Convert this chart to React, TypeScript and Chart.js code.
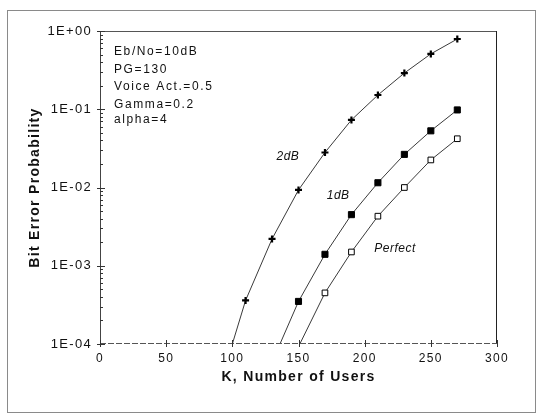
import React, { useEffect, useRef } from 'react';
import { Chart, registerables } from 'chart.js';

Chart.register(...registerables);

// ---- data ----
const k2dB = [100, 110, 130, 150, 170, 190, 210, 230, 250, 270];
const ber2dB = [1e-4, 3.6e-4, 2.2e-3, 9.3e-3, 2.8e-2, 7.3e-2, 0.152, 0.29, 0.51, 0.79];

const k1dB = [136, 150, 170, 190, 210, 230, 250, 270];
const ber1dB = [1e-4, 3.5e-4, 1.4e-3, 4.5e-3, 1.15e-2, 2.65e-2, 5.3e-2, 9.8e-2];

const kPerfect = [151, 170, 190, 210, 230, 250, 270];
const berPerfect = [1e-4, 4.5e-4, 1.5e-3, 4.3e-3, 1.0e-2, 2.25e-2, 4.2e-2];

const xTickValues = [0, 50, 100, 150, 200, 250, 300];
const yTickValues = [1e-4, 1e-3, 1e-2, 1e-1, 1];
const yTickLabels = ['1E-04', '1E-03', '1E-02', '1E-01', '1E+00'];

const paramLines = ['Eb/No=10dB', 'PG=130', 'Voice Act.=0.5', 'Gamma=0.2', 'alpha=4'];

const curveLabels = [
  { text: '2dB', k: 142, ber: 0.025 },
  { text: '1dB', k: 180, ber: 7.8e-3 },
  { text: 'Perfect', k: 223, ber: 1.64e-3 },
];

const xTitle = 'K, Number of Users';
const yTitle = 'Bit Error Probability';

const FONT = '"Liberation Sans", Arial, Helvetica, sans-serif';

function toPoints(ks: number[], vs: number[]) {
  return ks.map((k, i) => ({ x: k, y: vs[i] }));
}

const decorPlugin = {
  id: 'decor',
  beforeDraw(chart: any) {
    const ctx = chart.ctx as CanvasRenderingContext2D;
    (ctx as any).letterSpacing = '1.3px';
    ctx.save();
    ctx.strokeStyle = '#8a8a8a';
    ctx.lineWidth = 1;
    ctx.strokeRect(7.5, 10.5, 528, 402);
    ctx.restore();
  },
  afterDatasetsDraw(chart: any) {
    const ctx = chart.ctx as CanvasRenderingContext2D;
    const { left, right, top, bottom } = chart.chartArea;
    const xs = chart.scales.x;
    const ys = chart.scales.y;
    ctx.save();
    ctx.lineWidth = 1;
    ctx.strokeStyle = '#555';
    ctx.beginPath();
    ctx.moveTo(left, top + 0.5);
    ctx.lineTo(right, top + 0.5);
    ctx.stroke();
    ctx.strokeStyle = '#222';
    ctx.beginPath();
    ctx.moveTo(right - 0.5, top);
    ctx.lineTo(right - 0.5, bottom);
    ctx.stroke();
    ctx.strokeStyle = '#444';
    ctx.beginPath();
    ctx.moveTo(left + 0.5, top);
    ctx.lineTo(left + 0.5, bottom);
    ctx.stroke();
    ctx.strokeStyle = '#555';
    ctx.setLineDash([6, 2]);
    ctx.beginPath();
    ctx.moveTo(left, bottom - 0.5);
    ctx.lineTo(right, bottom - 0.5);
    ctx.stroke();
    ctx.setLineDash([]);

    ctx.strokeStyle = '#333';
    for (let d = -4; d <= 0; d++) {
      const py = Math.round(ys.getPixelForValue(Math.pow(10, d))) + 0.5;
      ctx.beginPath();
      ctx.moveTo(left - 3, py);
      ctx.lineTo(left + 5, py);
      ctx.stroke();
      if (d < 0) {
        for (let m = 2; m <= 9; m++) {
          const my = Math.round(ys.getPixelForValue(m * Math.pow(10, d))) + 0.5;
          ctx.beginPath();
          ctx.moveTo(left, my);
          ctx.lineTo(left + 3, my);
          ctx.stroke();
        }
      }
    }
    xTickValues.forEach((v) => {
      const px = Math.round(xs.getPixelForValue(v)) + 0.5;
      ctx.beginPath();
      ctx.moveTo(px, bottom - 4);
      ctx.lineTo(px, bottom + 3);
      ctx.stroke();
    });

    (ctx as any).letterSpacing = '1.6px';
    ctx.fillStyle = '#111';
    ctx.font = `12px ${FONT}`;
    ctx.textAlign = 'left';
    ctx.textBaseline = 'middle';
    const lineYs = [52, 69.5, 87, 105, 120];
    paramLines.forEach((t, i) => ctx.fillText(t, 114, lineYs[i]));

    (ctx as any).letterSpacing = '0.5px';
    ctx.font = `italic 12px ${FONT}`;
    ctx.textAlign = 'center';
    curveLabels.forEach((c) => {
      ctx.fillText(c.text, xs.getPixelForValue(c.k), ys.getPixelForValue(c.ber));
    });
    ctx.restore();
    (ctx as any).letterSpacing = '1.3px';
  },
};

export default function App() {
  const ref = useRef<HTMLCanvasElement | null>(null);

  useEffect(() => {
    document.body.style.margin = '0';
    const canvas = ref.current;
    if (!canvas) return;
    const common = {
      borderColor: '#3a3a3a',
      borderWidth: 1,
      showLine: true,
      tension: 0,
      clip: 0,
    };
    const chart = new Chart(canvas, {
      type: 'scatter',
      data: {
        datasets: [
          {
            ...common,
            label: '2dB',
            data: toPoints(k2dB, ber2dB),
            pointStyle: 'cross',
            pointRadius: (c: any) => (c.dataIndex === 0 ? 0 : 3.5),
            pointBorderWidth: 2.2,
            pointBorderColor: '#000',
            pointBackgroundColor: '#000',
          },
          {
            ...common,
            label: '1dB',
            data: toPoints(k1dB, ber1dB),
            pointStyle: 'rect',
            pointRadius: (c: any) => (c.dataIndex === 0 ? 0 : 4.3),
            pointBorderWidth: 1,
            pointBorderColor: '#000',
            pointBackgroundColor: '#000',
          },
          {
            ...common,
            label: 'Perfect',
            data: toPoints(kPerfect, berPerfect),
            pointStyle: 'rect',
            pointRadius: (c: any) => (c.dataIndex === 0 ? 0 : 4),
            pointBorderWidth: 1,
            pointBorderColor: '#000',
            pointBackgroundColor: '#fff',
          },
        ],
      } as any,
      options: {
        animation: false,
        responsive: false,
        devicePixelRatio: 1,
        layout: { padding: { left: 0, top: 31, right: 46, bottom: 0 } },
        plugins: {
          legend: { display: false },
          tooltip: { enabled: false },
        },
        scales: {
          x: {
            type: 'linear',
            min: 0,
            max: 300,
            afterBuildTicks: (s: any) => {
              s.ticks = xTickValues.map((v) => ({ value: v }));
            },
            afterFit: (s: any) => {
              s.height = 71;
            },
            grid: { display: false, drawTicks: false },
            border: { display: false },
            ticks: {
              padding: 7,
              color: '#111',
              font: { family: FONT, size: 12 },
              callback: (v: any) => String(v),
              maxRotation: 0,
            },
            title: {
              display: true,
              text: xTitle,
              color: '#111',
              font: { family: FONT, size: 14, weight: 'bold' },
              padding: { top: 0, bottom: 29 },
            },
          },
          y: {
            type: 'logarithmic',
            min: 1e-4,
            max: 1,
            afterBuildTicks: (s: any) => {
              s.ticks = yTickValues.map((v) => ({ value: v }));
            },
            afterFit: (s: any) => {
              s.width = 100;
            },
            grid: { display: false, drawTicks: false },
            border: { display: false },
            ticks: {
              padding: 8,
              color: '#111',
              font: { family: FONT, size: 13 },
              callback: (_v: any, i: number) => yTickLabels[i],
            },
            title: {
              display: true,
              text: yTitle,
              color: '#111',
              font: { family: FONT, size: 14, weight: 'bold' },
              padding: { top: 27, bottom: 0 },
            },
          },
        },
      } as any,
      plugins: [decorPlugin],
    });
    return () => chart.destroy();
  }, []);

  return (
    <div style={{ width: 543, height: 415 }}>
      <canvas ref={ref} width={543} height={415} style={{ display: 'block' }} />
    </div>
  );
}
